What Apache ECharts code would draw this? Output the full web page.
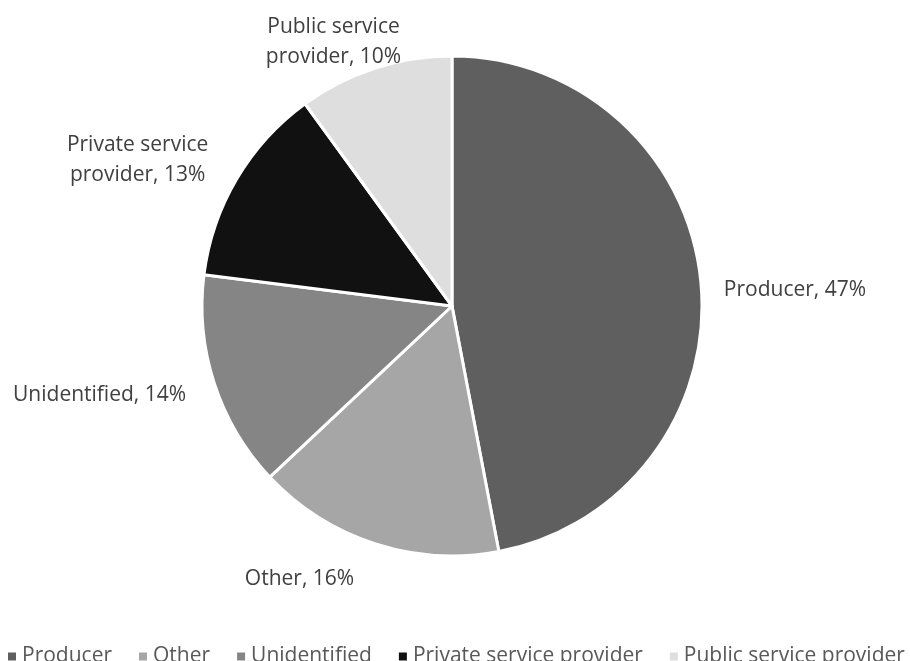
<!DOCTYPE html>
<html>
<head>
<meta charset="utf-8">
<script src="https://cdn.jsdelivr.net/npm/echarts@6/dist/echarts.min.js"></script>
<style>html,body{margin:0;padding:0;background:#fff;}#c{width:910px;height:661px;}</style>
</head>
<body>
<div id="c"></div>
<script>
const categories = ['Producer', 'Other', 'Unidentified', 'Private service provider', 'Public service provider'];
const values = [47, 16, 14, 13, 10];
const labelLines = [['Producer, 47%'], ['Other, 16%'], ['Unidentified, 14%'], ['Private service', 'provider, 13%'], ['Public service', 'provider, 10%']];
const colors = ['#5f5f5f', '#a6a6a6', '#858585', '#111111', '#dedede'];

// label fine placement (style, not data)
const labelOffsets = [[0, 9], [-10, 18], [-6, 6], [-8, -10], [37, -9]];

const chart = echarts.init(document.getElementById('c'));
chart.setOption({
  animation: false,
  color: colors,
  legend: {
    data: categories,
    top: 641,
    left: 1,
    width: 1200,
    icon: 'rect',
    itemWidth: 10,
    itemHeight: 10,
    itemGap: 25,
    textStyle: { fontFamily: 'Open Sans', fontSize: 21, color: '#595959' }
  },
  series: [{
    type: 'pie',
    center: [452, 306],
    radius: 250,
    startAngle: 90,
    clockwise: true,
    data: categories.map((c, i) => ({
      name: c,
      value: values[i],
      label: {
        formatter: labelLines[i].map(t => '{a|' + t + '}').join('\n'),
        offset: labelOffsets[i]
      }
    })),
    itemStyle: { borderColor: '#ffffff', borderWidth: 3 },
    label: {
      show: true,
      position: 'outside',
      fontFamily: 'Open Sans',
      fontSize: 21,
      lineHeight: 30,
      color: '#404040',
      rich: {
        a: { fontFamily: 'Open Sans', fontSize: 21, lineHeight: 30, color: '#404040', align: 'center' }
      }
    },
    labelLine: { show: false, length: 18, length2: 0 },
    emphasis: { disabled: true }
  }]
});
</script>
</body>
</html>
